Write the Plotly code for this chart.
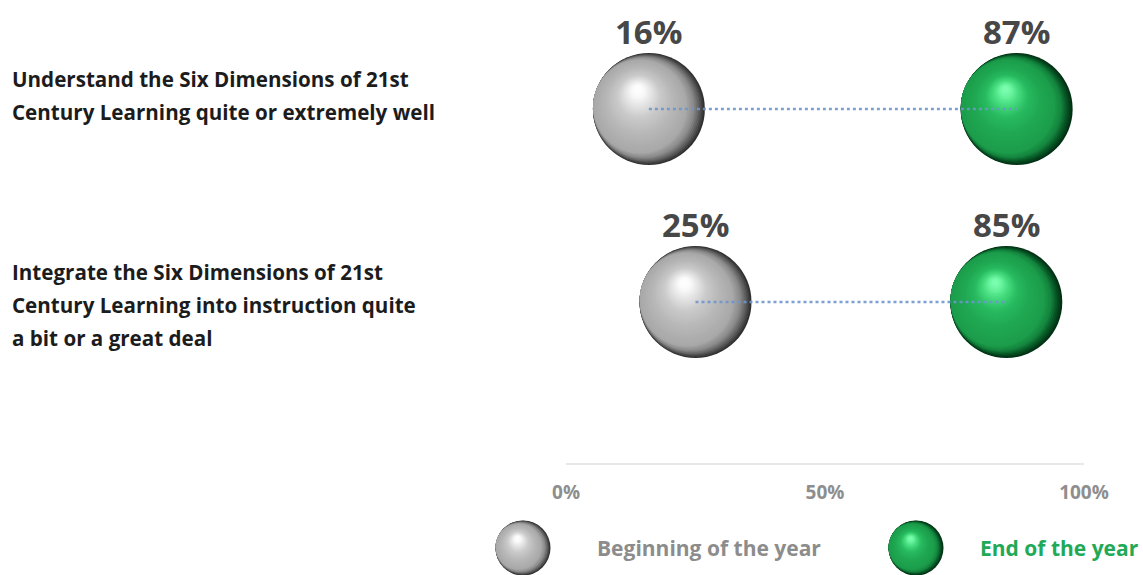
import math
import plotly.graph_objects as go

# ---- data -------------------------------------------------------------
statements = [
    "Understand the Six Dimensions of 21st<br>Century Learning quite or extremely well",
    "Integrate the Six Dimensions of 21st<br>Century Learning into instruction quite<br>a bit or a great deal",
]
beginning_pct = [16, 25]
end_pct = [87, 85]
tick_values = [0, 50, 100]
tick_labels = ["0%", "50%", "100%"]
series_names = ["Beginning of the year", "End of the year"]

# ---- canvas geometry ----------------------------------------------------
W, H = 1143, 575
plot_left, plot_right = 566, 1084      # pixel span of the 0-100 axis
plot_bottom = 463                      # pixel row of the baseline
row_px = [109, 302]                    # pixel rows of the two statements
px_per_row = row_px[1] - row_px[0]
row_y = [1, 0]                         # y value of each statement

y_top = 1 + row_px[0] / px_per_row
y_bottom = 0 - (plot_bottom - row_px[1]) / px_per_row
px_per_x = (plot_right - plot_left) / 100.0

FONT = "Open Sans"

# Ball shading. Each ball is a stack of nested discs: an outer "rim" stage
# whose discs stay tangent on the lit (upper-left) side, leaving a dark
# crescent on the lower right, then a "body" stage shrinking toward the
# specular spot.  Ramps are (s, rgb) pairs for each stage.
GREY_RIM = [(0.0, (48, 48, 48)), (0.3, (96, 96, 96)), (0.6, (138, 138, 138)), (1.0, (166, 166, 166))]
GREY_BODY = [(0.0, (168, 168, 168)), (0.3, (184, 184, 184)), (0.55, (202, 202, 202)),
             (0.75, (230, 230, 230)), (0.88, (249, 249, 249)), (1.0, (255, 255, 255))]
GREEN_RIM = [(0.0, (2, 48, 20)), (0.3, (8, 88, 38)), (0.6, (20, 132, 62)), (1.0, (28, 156, 74))]
GREEN_BODY = [(0.0, (28, 157, 75)), (0.3, (32, 168, 82)), (0.55, (40, 186, 96)),
              (0.75, (70, 220, 126)), (0.88, (104, 244, 158)), (1.0, (128, 255, 180))]
GREY = (GREY_RIM, GREY_BODY)
GREEN = (GREEN_RIM, GREEN_BODY)

RIM_LAYERS, BODY_LAYERS = 10, 30
RIM_FRACTION = 0.16                    # share of the radius used by the rim stage
LIGHT_DIR = (-1.0, 0.3)                # towards upper left (x right, y up)
SPOT = (-0.2, 0.36)                    # specular spot, in radii from the centre


def ramp_colour(ramp, s):
    for (s0, c0), (s1, c1) in zip(ramp, ramp[1:]):
        if s <= s1:
            f = (s - s0) / (s1 - s0) if s1 > s0 else 0
            return "rgb(%d,%d,%d)" % tuple(round(a + (b - a) * f) for a, b in zip(c0, c1))
    return "rgb(%d,%d,%d)" % ramp[-1][1]


def ball_layers(palette):
    """Offsets (in radii), radius fraction and colour of every disc."""
    rim, body = palette
    n = math.hypot(*LIGHT_DIR)
    ux, uy = LIGHT_DIR[0] / n, LIGHT_DIR[1] / n
    out = []
    for k in range(RIM_LAYERS):
        s = k / RIM_LAYERS
        shrink = RIM_FRACTION * s
        out.append((ux * shrink, uy * shrink, 1 - shrink, ramp_colour(rim, s)))
    cx0, cy0 = ux * RIM_FRACTION, uy * RIM_FRACTION
    r0 = 1 - RIM_FRACTION
    for k in range(BODY_LAYERS):
        s = k / BODY_LAYERS
        out.append((cx0 + (SPOT[0] - cx0) * s, cy0 + (SPOT[1] - cy0) * s,
                    r0 * (1 - s) + 0.03 * s, ramp_colour(body, s)))
    return out


def sphere_trace(xs, ys, diam, palette, dx_unit, dy_unit, xaxis="x", yaxis="y"):
    """dx_unit / dy_unit convert a pixel offset (right / up) into axis units."""
    R = diam / 2.0
    layers = ball_layers(palette)
    px, py, ps, pc = [], [], [], []
    for x, y in zip(xs, ys):
        for ox, oy, rf, col in layers:
            px.append(x + ox * R * dx_unit)
            py.append(y + oy * R * dy_unit)
            ps.append(diam * rf)
            pc.append(col)
    return go.Scatter(
        x=px, y=py, xaxis=xaxis, yaxis=yaxis, mode="markers",
        marker=dict(size=ps, color=pc, line=dict(width=0), opacity=1),
        hoverinfo="skip", showlegend=False, cliponaxis=False,
    )


fig = go.Figure()

D = 112
fig.add_trace(sphere_trace(beginning_pct, row_y, D, GREY, 1 / px_per_x, 1 / px_per_row))
fig.add_trace(sphere_trace(end_pct, row_y, D, GREEN, 1 / px_per_x, 1 / px_per_row))

# dotted connectors from the beginning value to the end value
for b, e, y in zip(beginning_pct, end_pct, row_y):
    fig.add_trace(go.Scatter(
        x=[b, e], y=[y, y], mode="lines",
        line=dict(color="rgba(110,150,205,0.9)", width=2.5, dash="dot"),
        hoverinfo="skip", showlegend=False, cliponaxis=False,
    ))

# value labels above each ball
annotations = []
for vals in (beginning_pct, end_pct):
    for v, y in zip(vals, row_y):
        annotations.append(dict(
            x=v, y=y, xref="x", yref="y", text=f"{v}%", showarrow=False,
            yshift=78, font=dict(family=FONT, size=33, color="#474747", weight=700),
        ))

# statement text on the left, one annotation per line
line_gap = 33
for s, y in zip(statements, row_y):
    for i, line in enumerate(s.split("<br>")):
        annotations.append(dict(
            x=10 / W, y=y, xref="paper", yref="y", text=line, showarrow=False,
            xanchor="left", yanchor="middle", yshift=30 - i * line_gap,
            font=dict(family=FONT, size=20.6, color="#1c1c1c", weight=700),
        ))

# ---- key below the axis (pixel-coordinate overlay axes) -----------------
key_d = 55
key_y = 548
key_ball_x = [523, 916]
key_text_x = [595, 978]
key_colors = ["#8c8c8c", "#22a957"]
for bx, pal in zip(key_ball_x, (GREY, GREEN)):
    fig.add_trace(sphere_trace([bx], [key_y], key_d, pal, 1.0, -1.0, "x2", "y2"))
for tx, name, col in zip(key_text_x, series_names, key_colors):
    annotations.append(dict(
        x=tx, y=key_y, xref="x2", yref="y2", text=name, showarrow=False,
        xanchor="left", yanchor="middle",
        font=dict(family=FONT, size=21, color=col, weight=700),
    ))

fig.update_layout(
    width=W, height=H,
    margin=dict(l=0, r=0, t=0, b=0, autoexpand=False),
    paper_bgcolor="white", plot_bgcolor="rgba(0,0,0,0)",
    showlegend=False,
    annotations=annotations,
    xaxis=dict(
        domain=[plot_left / W, plot_right / W], range=[0, 100],
        tickvals=tick_values, ticktext=tick_labels,
        tickfont=dict(family=FONT, size=19, color="#8e8e8e", weight=700),
        ticks="", ticklabelstandoff=11,
        showline=True, linecolor="#e8e8e8", linewidth=2,
        showgrid=False, zeroline=False, fixedrange=True,
    ),
    yaxis=dict(
        domain=[(H - plot_bottom) / H, 1], range=[y_bottom, y_top],
        visible=False, showgrid=False, zeroline=False, fixedrange=True,
    ),
    xaxis2=dict(domain=[0, 1], range=[0, W], anchor="y2", visible=False, fixedrange=True),
    yaxis2=dict(domain=[0, 1], range=[H, 0], anchor="x2", visible=False, fixedrange=True),
)

fig.write_html("out.html", config={"displayModeBar": False})
